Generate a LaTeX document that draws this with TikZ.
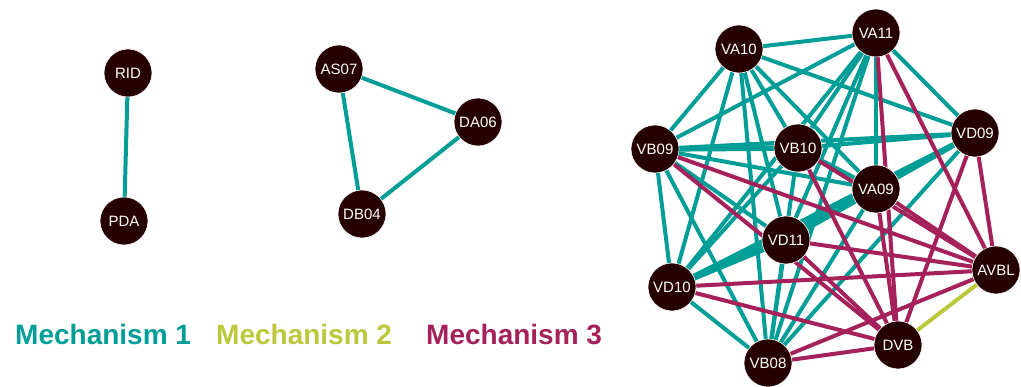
\documentclass[tikz,border=0pt]{standalone}
\usepackage{fontspec}
\setmainfont{Liberation Sans}
\definecolor{mone}{RGB}{0,158,150}
\definecolor{mtwo}{RGB}{188,200,60}
\definecolor{mthree}{RGB}{164,33,90}
\definecolor{nodefill}{RGB}{38,0,0}
\begin{document}
\begin{tikzpicture}[x=1pt,y=-1pt,
  neuron/.style={circle,fill=nodefill,draw=white,line width=0.6pt,minimum size=48pt,inner sep=0pt,text=white,font=\fontsize{15}{15}\selectfont},
  mA/.style={draw=mone,line width=4pt},
  mAthick/.style={draw=mone,line width=5.5pt},
  mB/.style={draw=mtwo,line width=4pt},
  mC/.style={draw=mthree,line width=4pt},
  legend/.style={anchor=base west,font=\bfseries\fontsize{28}{28}\selectfont,inner sep=0pt}]
\useasboundingbox (0,0) rectangle (1021,387);
% coordinates
\coordinate (pRID) at (128,73);
\coordinate (pPDA) at (124,221);
\coordinate (pAS07) at (339,69);
\coordinate (pDA06) at (478,122);
\coordinate (pDB04) at (362,214);
\coordinate (pVA10) at (739,49);
\coordinate (pVA11) at (876,33);
\coordinate (pVB09) at (655,149);
\coordinate (pVB10) at (798,148);
\coordinate (pVD09) at (975,133);
\coordinate (pVA09) at (876,189);
\coordinate (pVD11) at (786,240);
\coordinate (pAVBL) at (996,270);
\coordinate (pVD10) at (672,287);
\coordinate (pDVB) at (898,345);
\coordinate (pVB08) at (768,363);
% mechanism 1 edges
\foreach \a/\b in {RID/PDA,AS07/DA06,AS07/DB04,DA06/DB04,
  VA10/VA11,VA10/VB09,VA10/VD09,VA10/VB10,VA10/VA09,VA10/VD11,VA10/VD10,VA10/VB08,
  VA11/VB09,VA11/VD09,VA11/VA09,VA11/VB10,VA11/VD11,VA11/VD10,VA11/VB08,
  VB09/VD09,VB09/VA09,VB09/VD10,VB09/VB08,VB09/VD11,
  VB10/VD09,VB10/VD10,VB10/VB08,VB10/VA09,
  VD09/VD10,VD09/VB08,
  VA09/VB08,VD11/VB08,VD10/VB08}
  \draw[mA] (p\a) -- (p\b);
\foreach \a/\b in {VB09/VB10,VD09/VA09,VA09/VD11,VA09/VD10,VD11/VD10}
  \draw[mAthick] (p\a) -- (p\b);
% mechanism 3 edges
\foreach \a/\b in {VA11/DVB,VA11/AVBL,VD09/AVBL,VD09/DVB,VB09/AVBL,VB09/DVB,
  VB10/AVBL,VB10/DVB,VA09/AVBL,VA09/DVB,VD11/AVBL,VD11/DVB,
  VD10/AVBL,VD10/DVB,VB08/AVBL,VB08/DVB}
  \draw[mC] (p\a) -- (p\b);
% mechanism 2 edge
\draw[mB] (pAVBL) -- (pDVB);
% nodes
\foreach \n in {RID,PDA,AS07,DA06,DB04,VA10,VA11,VB09,VB10,VD09,VA09,VD11,AVBL,VD10,DVB,VB08}
  \node[neuron] (\n) at (p\n) {\n};
% legend
\node[legend,text=mone] (l1) at (15,345) {Mechanism 1};
\node[legend,text=mtwo] (l2) at (216,345) {Mechanism 2};
\node[legend,text=mthree] (l3) at (426,345) {Mechanism 3};
\end{tikzpicture}
\end{document}
